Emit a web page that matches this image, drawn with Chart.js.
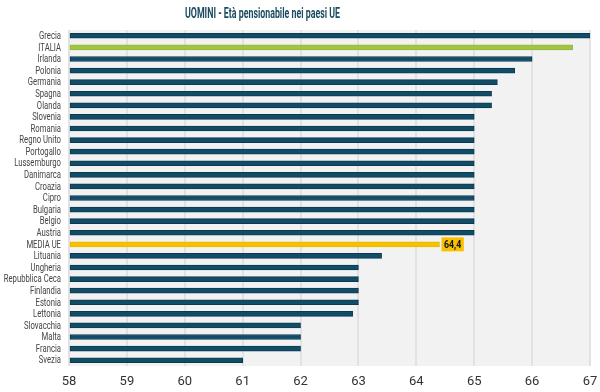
<!DOCTYPE html>
<html>
<head>
<meta charset="utf-8">
<script src="https://cdn.jsdelivr.net/npm/chart.js@4.4.0/dist/chart.umd.min.js"></script>
<style>
  html, body { margin: 0; padding: 0; background: #fff; }
  #wrap { width: 600px; height: 392px; position: relative; }
</style>
</head>
<body>
<div id="wrap"><canvas id="chart"></canvas></div>
<script>
// data
const paesi = ["Grecia", "ITALIA", "Irlanda", "Polonia", "Germania", "Spagna", "Olanda", "Slovenia",
	"Romania", "Regno Unito", "Portogallo", "Lussemburgo", "Danimarca", "Croazia", "Cipro", "Bulgaria",
	"Belgio", "Austria", "MEDIA UE", "Lituania", "Ungheria", "Repubblica Ceca", "Finlandia", "Estonia",
	"Lettonia", "Slovacchia", "Malta", "Francia", "Svezia"];
const eta = [67, 66.7, 66, 65.7, 65.4, 65.3, 65.3, 65,
	65, 65, 65, 65, 65, 65, 65, 65,
	65, 65, 64.4, 63.4, 63, 63, 63, 63,
	62.9, 62, 62, 62, 61];
const xTicks = [58, 59, 60, 61, 62, 63, 64, 65, 66, 67];
const mediaLabel = "64,4";
const titolo = "UOMINI - Età pensionabile nei paesi UE";

const barColors = paesi.map((p) => {
	if (p == "ITALIA") return "#a3c545";
	if (p == "MEDIA UE") return "#f7c100";
	return "#124d68";
});
const borderColors = paesi.map((p) => {
	if (p == "ITALIA") return "#93b63a";
	if (p == "MEDIA UE") return "#eab600";
	return "#0b3a50";
});

// squeezed text, to fake a condensed face
function narrowText(ctx, text, x, y, sx, align) {
	ctx.save();
	ctx.translate(x, y);
	ctx.scale(sx, 1);
	ctx.textAlign = align;
	ctx.fillText(text, 0, 0);
	ctx.restore();
}

// plot background, title, y labels, media label
const extras = {
	id: "extras",
	beforeDraw(chart) {
		const { ctx, chartArea } = chart;
		ctx.save();
		ctx.fillStyle = "#f2f2f2";
		ctx.fillRect(chartArea.left, chartArea.top, chartArea.right - chartArea.left, chartArea.bottom - chartArea.top);
		ctx.restore();
	},
	afterDraw(chart) {
		const { ctx, chartArea } = chart;
		const yScale = chart.scales.y;
		ctx.save();
		ctx.textBaseline = "middle";

		// title
		ctx.fillStyle = "#1b4b60";
		ctx.font = "bold 15px Roboto";
		const tw = ctx.measureText(titolo).width;
		narrowText(ctx, titolo, 185, 14, 155 / tw, "left");

		// category labels
		ctx.fillStyle = "#444";
		ctx.font = "11px Roboto";
		paesi.forEach((p, i) => {
			narrowText(ctx, p, chartArea.left - 8, yScale.getPixelForTick(i) + 0.5, 0.7, "right");
		});

		// media UE label
		const i = paesi.indexOf("MEDIA UE");
		const bar = chart.getDatasetMeta(0).data[i];
		ctx.font = "bold 11px Roboto";
		const w = ctx.measureText(mediaLabel).width * 0.8 + 5;
		const x = bar.x + 2;
		ctx.fillStyle = "#f7c100";
		ctx.fillRect(x, bar.y - 7, w, 14);
		ctx.fillStyle = "#111";
		narrowText(ctx, mediaLabel, x + 2.5, bar.y + 0.5, 0.8, "left");
		ctx.restore();
	}
};

const ctx = document.getElementById("chart").getContext("2d");
new Chart(ctx, {
	type: "bar",
	data: {
		labels: paesi,
		datasets: [{
			data: eta,
			backgroundColor: barColors,
			borderColor: borderColors,
			borderWidth: 1,
			borderSkipped: false,
			barThickness: 5,
			base: 58,
		}],
	},
	options: {
		indexAxis: "y",
		responsive: true,
		maintainAspectRatio: false,
		animation: false,
		layout: { padding: { top: 30, right: 0, left: 0, bottom: 0 } },
		plugins: {
			legend: { display: false },
			tooltip: { enabled: false },
		},
		scales: {
			x: {
				min: 58,
				max: 67,
				afterBuildTicks: (s) => { s.ticks = xTicks.map((v) => ({ value: v })); },
				afterFit: (s) => {
					s.height = 26;
					s.paddingLeft = 0;
					s.paddingRight = 10;
				},
				grid: { color: "#e2e2e2", lineWidth: 2, drawTicks: false },
				border: { display: false },
				ticks: { color: "#333", font: { size: 13, family: "Roboto" }, padding: 8 },
			},
			y: {
				afterFit: (s) => { s.width = 69; },
				grid: { display: false },
				border: { display: false },
				ticks: { display: false },
			},
		},
	},
	plugins: [extras],
});
</script>
</body>
</html>
